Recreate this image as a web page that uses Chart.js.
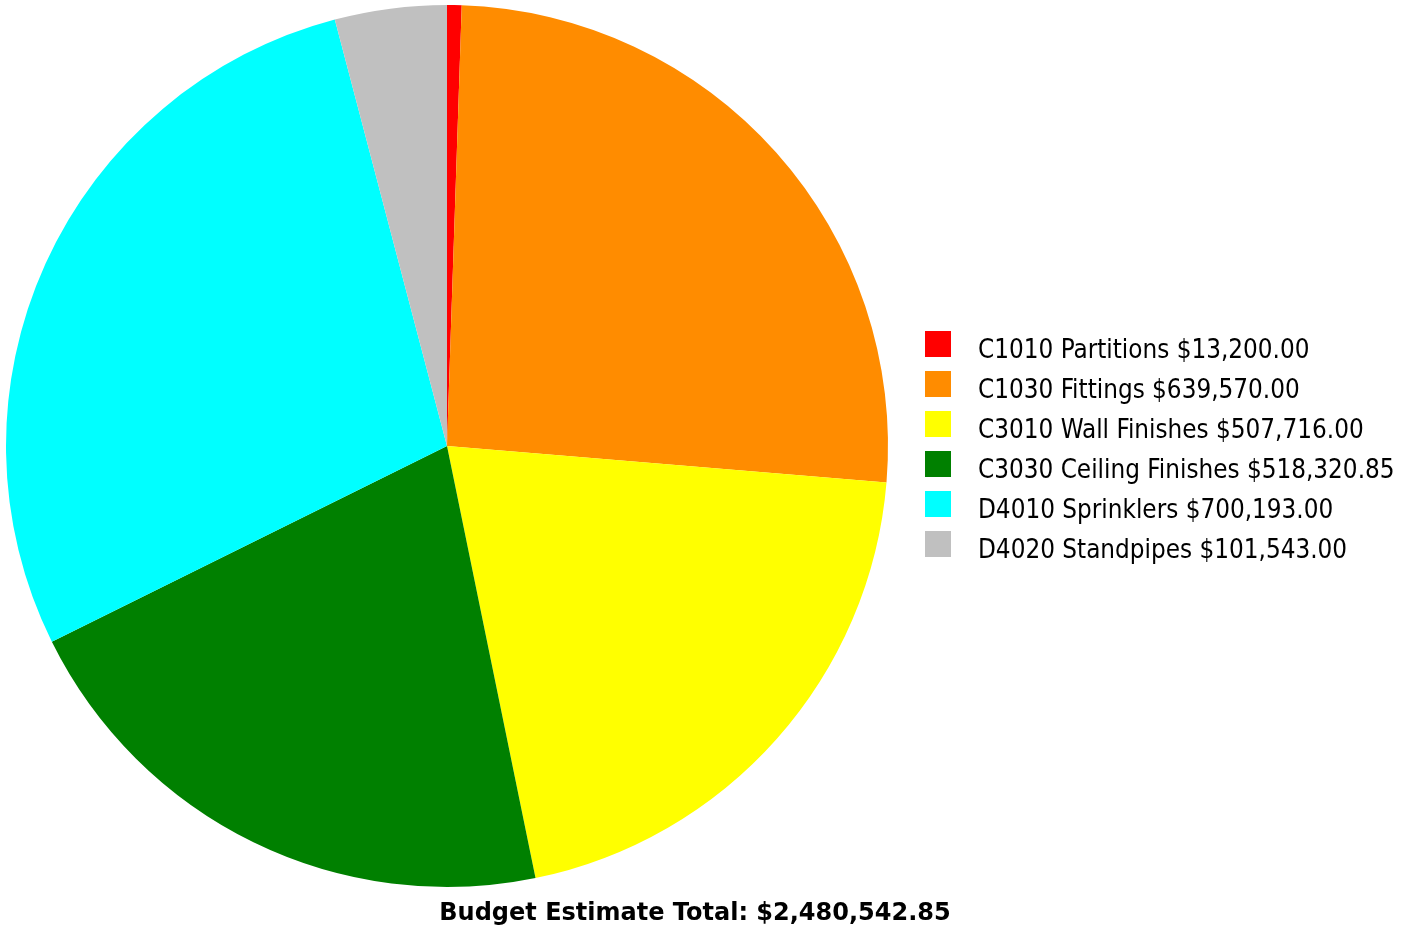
<!DOCTYPE html>
<html>
<head>
<meta charset="utf-8">
<title>Budget Estimate</title>
<script src="https://cdn.jsdelivr.net/npm/chart.js@4/dist/chart.umd.min.js"></script>
<style>
  html, body { margin: 0; padding: 0; background: #fff; }
  #wrap { width: 1416px; height: 928px; position: relative; }
</style>
</head>
<body>
<div id="wrap"><canvas id="budgetChart"></canvas></div>
<script>
// ---------------------------
// Données du budget
// ---------------------------
const codes = ['C1010', 'C1030', 'C3010', 'C3030', 'D4010', 'D4020'];
const postes = ['Partitions', 'Fittings', 'Wall Finishes', 'Ceiling Finishes', 'Sprinklers', 'Standpipes'];
const montants = [13200.00, 639570.00, 507716.00, 518320.85, 700193.00, 101543.00];
const couleurs = ['#FF0000', '#FF8C00', '#FFFF00', '#008000', '#00FFFF', '#C0C0C0'];
const libelleTotal = 'Budget Estimate Total: ';

const fmt = v => '$' + v.toLocaleString('en-US', { minimumFractionDigits: 2, maximumFractionDigits: 2 });
const total = montants.reduce((a, b) => a + b, 0);
const etiquettes = codes.map((c, i) => c + ' ' + postes[i] + ' ' + fmt(montants[i]));

// ---------------------------
// Légende à droite + total en bas
// ---------------------------
const legendeEtTotal = {
    id: 'legendeEtTotal',
    afterDraw(chart) {
        const ctx = chart.ctx;
        ctx.save();
        ctx.fillStyle = '#000';
        ctx.textBaseline = 'alphabetic';
        ctx.font = '25.8px "DejaVu Sans Condensed", "DejaVu Sans", sans-serif';
        chart.data.labels.forEach((lbl, i) => {
            const y = 331 + i * 40;
            ctx.fillStyle = chart.data.datasets[0].backgroundColor[i];
            ctx.fillRect(925, y, 26, 26);
            ctx.fillStyle = '#000';
            ctx.fillText(lbl, 978, y + 27);
        });
        // total sous le camembert
        ctx.font = 'bold 24px "DejaVu Sans", sans-serif';
        ctx.textAlign = 'center';
        ctx.fillText(libelleTotal + fmt(total), 695, 920);
        ctx.restore();
    }
};

new Chart(document.getElementById('budgetChart'), {
    type: 'pie',
    data: {
        labels: etiquettes,
        datasets: [{
            data: montants,
            backgroundColor: couleurs,
            borderWidth: 0
        }]
    },
    options: {
        responsive: true,
        maintainAspectRatio: false,
        animation: false,
        layout: { padding: { left: 6, top: 5, right: 528, bottom: 41 } },
        plugins: {
            legend: { display: false },
            tooltip: { enabled: false }
        }
    },
    plugins: [legendeEtTotal]
});
</script>
</body>
</html>
